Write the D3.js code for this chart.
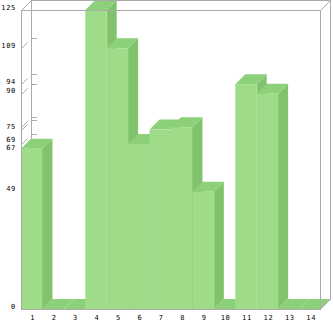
<!DOCTYPE html>
<html>
<head>
<meta charset="utf-8">
<script src="https://cdn.jsdelivr.net/npm/d3@7"></script>
<style>
  body { margin: 0; background: #fff; }
  text { font-family: "DejaVu Sans Mono", monospace; font-size: 7px; letter-spacing: 0.7px; fill: #000; }
</style>
</head>
<body>
<script>
// valeurs
const categories = ['1','2','3','4','5','6','7','8','9','10','11','12','13','14']
const values = [67, 0, 0, 125, 109, 69, 75, 76, 49, 0, 94, 90, 0, 0]
const yTickLabels = [0, 49, 67, 69, 75, 90, 94, 109, 125]

const W = 333, H = 321
const DX = 10, DY = 10
const FRONT = '#9edc89', SIDE = '#80c36c', TOP = '#8dd07a', EDGE = '#8ccc79'
const GRID = '#aaaaaa'

const svg = d3.select('body').append('svg')
  .attr('width', W).attr('height', H)

const x = d3.scaleBand().domain(categories).range([21, 321]).padding(0)
const y = d3.scaleLinear().domain([0, 125]).range([309, 10])

// plan du fond + graduations (sous les barres)
const back = svg.append('g').attr('stroke', GRID).attr('fill', 'none')
back.append('line')
  .attr('x1', 31.5).attr('x2', 31.5).attr('y1', 0).attr('y2', y(0) - DY)
const tickVals = Array.from(new Set(values.filter(v => v > 0)))
tickVals.forEach(v => {
  const yy = Math.round(y(v)) + 0.5
  back.append('line')
    .attr('x1', 31).attr('x2', 37).attr('y1', yy - DY).attr('y2', yy - DY)
  back.append('line')
    .attr('x1', 21.5).attr('x2', 27.5).attr('y1', yy).attr('y2', yy - 6)
})

// barres 3D
const bars = svg.append('g')
values.forEach((v, i) => {
  const x0 = x(categories[i]), x1 = x0 + x.bandwidth()
  const yt = y(v), yb = y(0)
  bars.append('polygon')
    .attr('points', [[x1, yt], [x1 + DX, yt - DY], [x1 + DX, yb - DY], [x1, yb]].join(' '))
    .attr('fill', SIDE)
  bars.append('polygon')
    .attr('points', [[x0, yt], [x0 + DX, yt - DY], [x1 + DX, yt - DY], [x1, yt]].join(' '))
    .attr('fill', TOP)
  if (v > 0) {
    bars.append('rect')
      .attr('x', x0).attr('y', yt)
      .attr('width', x.bandwidth()).attr('height', yb - yt)
      .attr('fill', FRONT)
    bars.append('line')
      .attr('x1', Math.round(x1) + 0.5).attr('x2', Math.round(x1) + 0.5)
      .attr('y1', yt).attr('y2', yb)
      .attr('stroke', EDGE)
  }
})

// cadre (au-dessus)
const frame = svg.append('g').attr('stroke', GRID).attr('fill', 'none')
frame.append('path')
  .attr('d', `M21.5,${y(0)}V10.5H320.5V${y(0)}`)
frame.append('path')
  .attr('d', `M21.5,10.5L31.5,0.5H330.5V${y(0) - DY}L320.5,${y(0)}`)
frame.append('path')
  .attr('d', `M320.5,10.5L330.5,0.5`)
frame.append('line')
  .attr('x1', 21).attr('x2', 321).attr('y1', y(0) + 0.5).attr('y2', y(0) + 0.5)

// libellés : on écarte un peu ceux qui se touchent
const labelY = {}
let prev = Infinity
yTickLabels.forEach(d => {
  let ly = y(d) - 0.5
  if (prev - ly < 7.5) ly = prev - 7.5
  labelY[d] = ly
  prev = ly
})
if (y(67) - 0.5 - labelY[69] > 0) {
  // partager le décalage entre 67 et 69
  const shift = (7.5 - (y(67) - y(69))) / 2
  labelY[67] = y(67) - 0.5 + shift
  labelY[69] = labelY[67] - 7.5
}

svg.append('g').selectAll('text')
  .data(yTickLabels)
  .join('text')
  .attr('x', 16).attr('y', d => labelY[d])
  .attr('text-anchor', 'end')
  .text(d => d)

svg.append('g').selectAll('text')
  .data(categories)
  .join('text')
  .attr('x', d => x(d) + x.bandwidth() / 2 + 1)
  .attr('y', 320)
  .attr('text-anchor', 'middle')
  .text(d => d)
</script>
</body>
</html>
